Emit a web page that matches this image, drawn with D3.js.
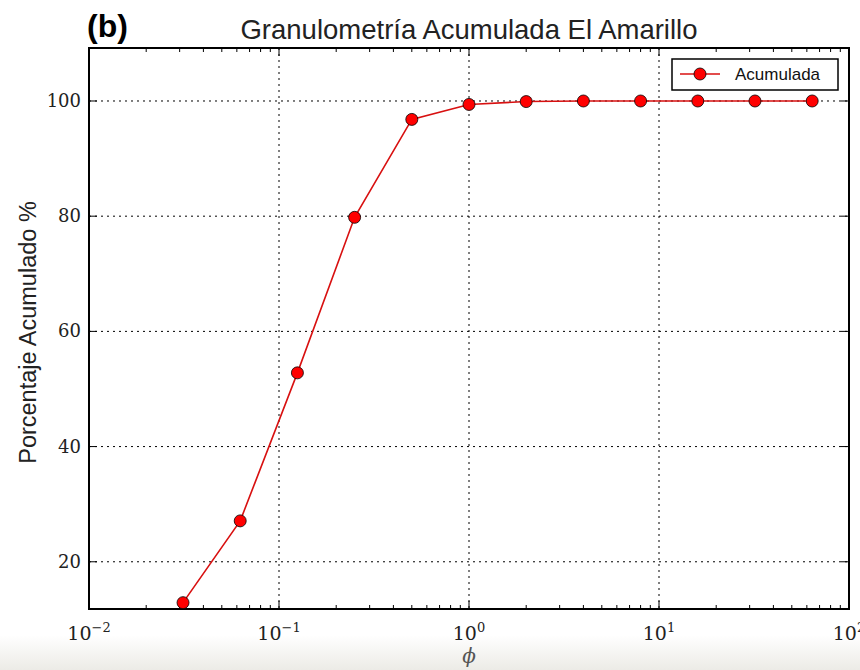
<!DOCTYPE html>
<html>
<head>
<meta charset="utf-8">
<script src="https://cdn.jsdelivr.net/npm/d3@7"></script>
<style>
  body { margin: 0; background: #fff; }
  svg { display: block; }
</style>
</head>
<body>
<div id="chart"></div>
<script>
// sieve sizes (phi, mm) and cumulative percentage
const sizes = [0.03125, 0.0625, 0.125, 0.25, 0.5, 1, 2, 4, 8, 16, 32, 64];
const cumulative = [12.9, 27.1, 52.8, 79.8, 96.8, 99.4, 99.9, 100, 100, 100, 100, 100];
const yTicks = [20, 40, 60, 80, 100];
const xDecades = [0.01, 0.1, 1, 10, 100];
const xExponents = ["\u22122", "\u22121", "0", "1", "2"];

const width = 860, height = 670;
const margin = {left: 89, right: 11, top: 48, bottom: 61};

const svg = d3.select("#chart").append("svg")
  .attr("width", width).attr("height", height);

// faint page shadow at bottom, like the scanned figure
const defs = svg.append("defs");
const grad = defs.append("linearGradient").attr("id", "shade").attr("x1", 0).attr("y1", 0).attr("x2", 0).attr("y2", 1);
grad.append("stop").attr("offset", "0%").attr("stop-color", "#fff");
grad.append("stop").attr("offset", "100%").attr("stop-color", "#ecebe6");
svg.append("rect").attr("x", 0).attr("y", 635).attr("width", width).attr("height", 35).attr("fill", "url(#shade)");

const x = d3.scaleLog().domain([0.01, 100]).range([margin.left, width - margin.right]);
const y = d3.scaleLinear().domain([11.8, 109.2]).range([height - margin.bottom, margin.top]);

const x0 = x.range()[0], x1 = x.range()[1], y0 = y.range()[0], y1 = y.range()[1];

// grid
const grid = svg.append("g").attr("stroke", "#000").attr("stroke-width", 1).attr("stroke-dasharray", "2,4");
grid.selectAll(".gx").data(xDecades.slice(1, -1)).enter().append("line")
  .attr("x1", d => x(d)).attr("x2", d => x(d)).attr("y1", y1).attr("y2", y0);
grid.selectAll(".gy").data(yTicks).enter().append("line")
  .attr("y1", d => y(d)).attr("y2", d => y(d)).attr("x1", x0).attr("x2", x1);

// inward ticks on all four sides
const minor = [];
for (let e = -2; e < 2; e++) for (let m = 2; m <= 9; m++) minor.push(m * Math.pow(10, e));
const ticks = svg.append("g").attr("stroke", "#000").attr("stroke-width", 1);
[y0, y1].forEach(function(yy, i) {
  const dir = i === 0 ? -1 : 1;
  ticks.selectAll(null).data(xDecades).enter().append("line")
    .attr("x1", d => x(d)).attr("x2", d => x(d)).attr("y1", yy).attr("y2", yy + dir * 8);
  ticks.selectAll(null).data(minor).enter().append("line")
    .attr("x1", d => x(d)).attr("x2", d => x(d)).attr("y1", yy).attr("y2", yy + dir * 4);
});
[x0, x1].forEach(function(xx, i) {
  const dir = i === 0 ? 1 : -1;
  ticks.selectAll(null).data(yTicks).enter().append("line")
    .attr("y1", d => y(d)).attr("y2", d => y(d)).attr("x1", xx).attr("x2", xx + dir * 8);
});

// frame
svg.append("rect").attr("x", x0).attr("y", y1).attr("width", x1 - x0).attr("height", y0 - y1)
  .attr("fill", "none").attr("stroke", "#000").attr("stroke-width", 2);

// tick labels
const serif = "'DejaVu Serif', 'Liberation Serif', serif";
const sans = "'Liberation Sans', Arial, sans-serif";
const xl = svg.append("g").attr("font-family", serif).attr("fill", "#222");
xDecades.forEach(function(d, i) {
  const t = xl.append("text").attr("x", x(d)).attr("y", y0 + 31).attr("text-anchor", "middle").attr("font-size", 19);
  t.append("tspan").text("10");
  t.append("tspan").attr("dy", -8).attr("font-size", 13).text(xExponents[i]);
});
svg.append("g").attr("font-family", serif).attr("font-size", 18).attr("fill", "#222")
  .selectAll("text").data(yTicks).enter().append("text")
  .attr("x", x0 - 8).attr("y", d => y(d) + 6).attr("text-anchor", "end").text(d => d);

// line + markers
const line = d3.line().x((d, i) => x(sizes[i])).y(d => y(d));
svg.append("path").datum(cumulative).attr("d", line)
  .attr("fill", "none").attr("stroke", "#d81010").attr("stroke-width", 1.6);
svg.append("g").selectAll("circle").data(cumulative).enter().append("circle")
  .attr("cx", (d, i) => x(sizes[i])).attr("cy", d => y(d)).attr("r", 6)
  .attr("fill", "#ff0000").attr("stroke", "#000").attr("stroke-width", 0.8);

// legend
const lg = svg.append("g");
lg.append("rect").attr("x", 672).attr("y", 59).attr("width", 166).attr("height", 31)
  .attr("fill", "#fff").attr("stroke", "#000").attr("stroke-width", 1.5);
lg.append("line").attr("x1", 680).attr("x2", 720).attr("y1", 74).attr("y2", 74)
  .attr("stroke", "#d81010").attr("stroke-width", 1.6);
lg.append("circle").attr("cx", 700).attr("cy", 74).attr("r", 6)
  .attr("fill", "#ff0000").attr("stroke", "#000").attr("stroke-width", 0.8);
lg.append("text").attr("x", 735).attr("y", 80).attr("font-family", sans)
  .attr("font-size", 17).attr("fill", "#111").text("Acumulada");

// titles
svg.append("text").attr("x", (x0 + x1) / 2).attr("y", 39).attr("text-anchor", "middle")
  .attr("font-family", sans).attr("font-size", 27.5).attr("fill", "#222")
  .text("Granulometría Acumulada El Amarillo");
svg.append("text").attr("x", 87).attr("y", 37)
  .attr("font-family", sans).attr("font-size", 32).attr("font-weight", "bold")
  .attr("fill", "#000").text("(b)");
svg.append("text").attr("transform", "translate(36," + ((y0 + y1) / 2 + 4) + ") rotate(-90)")
  .attr("text-anchor", "middle").attr("font-family", sans)
  .attr("font-size", 23.5).attr("fill", "#222").text("Porcentaje Acumulado %");
svg.append("text").attr("x", x(1)).attr("y", 663).attr("text-anchor", "middle")
  .attr("font-family", serif).attr("font-style", "italic").attr("font-size", 20).attr("fill", "#555").text("ϕ");
</script>
</body>
</html>
